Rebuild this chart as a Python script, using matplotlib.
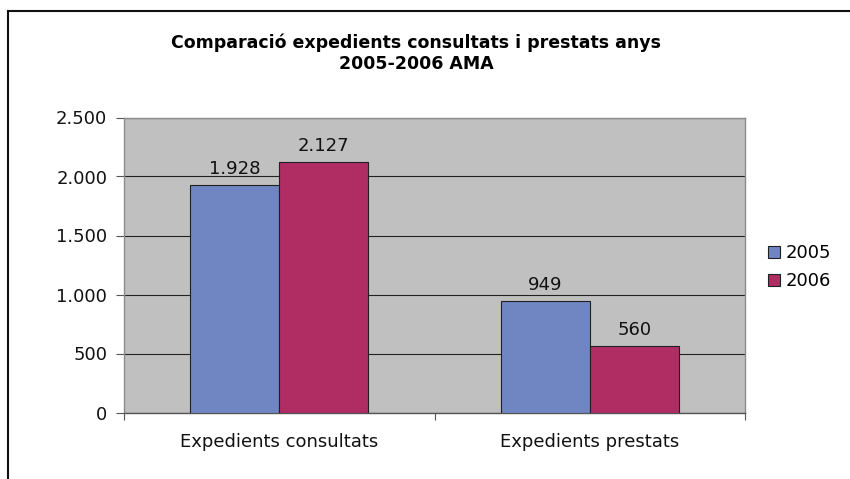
import matplotlib.pyplot as plt
import numpy as np
from matplotlib.lines import Line2D

plt.rcParams['font.family'] = ['DejaVu Sans']

categories = ['Expedients consultats', 'Expedients prestats']
years = ['2005', '2006']
values_2005 = [1928, 949]
values_2006 = [2127, 560]
value_labels_2005 = ['1.928', '949']
value_labels_2006 = ['2.127', '560']
yticks = [0, 500, 1000, 1500, 2000, 2500]
ytick_labels = ['0', '500', '1.000', '1.500', '2.000', '2.500']

blue = '#6F86C2'
red = '#AF2D63'
fs = 13

fig = plt.figure(figsize=(8.5, 4.79), dpi=100)
ax = fig.add_axes([124/850, 1 - 412.5/479, (745-124)/850, (412.5-117.5)/479])
ax.set_facecolor('#C0C0C0')

x = np.arange(len(categories))
w = 0.287
b1 = ax.bar(x - w/2, values_2005, w, color=blue, edgecolor='#202020', linewidth=0.8, label=years[0], zorder=3)
b2 = ax.bar(x + w/2, values_2006, w, color=red, edgecolor='#202020', linewidth=0.8, label=years[1], zorder=3)

for rect, lab in zip(b1, value_labels_2005):
    ax.annotate(lab, (rect.get_x() + rect.get_width()/2, rect.get_height()), xytext=(0, 5),
                textcoords='offset points', ha='center', va='bottom', fontsize=fs, color='#111111')
for rect, lab in zip(b2, value_labels_2006):
    ax.annotate(lab, (rect.get_x() + rect.get_width()/2, rect.get_height()), xytext=(0, 5),
                textcoords='offset points', ha='center', va='bottom', fontsize=fs, color='#111111')

ax.set_xlim(-0.5, 1.5)
ax.set_ylim(0, 2500)
ax.set_yticks(yticks)
ax.set_yticklabels(ytick_labels, fontsize=fs, color='#111111')
ax.yaxis.grid(True, color='#222222', linewidth=0.8, zorder=1)
ax.set_axisbelow(True)

# category ticks at boundaries, labels centered
ax.set_xticks([-0.5, 0.5, 1.5])
ax.set_xticklabels(['', '', ''])
ax.set_xticks(x, minor=True)
ax.set_xticklabels(categories, minor=True, fontsize=fs, color='#111111')
ax.tick_params(axis='x', which='minor', length=0, pad=15)
ax.tick_params(axis='x', which='major', length=5, direction='out', color='#555555')
ax.tick_params(axis='y', length=6, direction='out', color='#555555', pad=6)

for s in ['left', 'right', 'top']:
    ax.spines[s].set_color('#8C8C8C')
    ax.spines[s].set_linewidth(1.0)
ax.spines['bottom'].set_color('#555555')
ax.spines['bottom'].set_linewidth(1.0)

fig.text(416/850, 1 - 53/479, 'Comparació expedients consultats i prestats anys\n2005-2006 AMA',
         ha='center', va='center', fontsize=12.5, fontweight='bold', linespacing=1.25)

leg = fig.legend(handles=[b1, b2], labels=years, loc='center left', bbox_to_anchor=(752/850, 1 - 267/479),
                 frameon=False, fontsize=fs, handlelength=0.65, handleheight=0.65, handletextpad=0.3,
                 labelspacing=0.55)

# outer frame (top and left only)
fig.add_artist(Line2D([8/850, 8/850], [0, 1 - 11/479], color='#111111', linewidth=1.5))
fig.add_artist(Line2D([8/850, 1], [1 - 11/479, 1 - 11/479], color='#111111', linewidth=1.5))

fig.savefig('out.png', dpi=100)
